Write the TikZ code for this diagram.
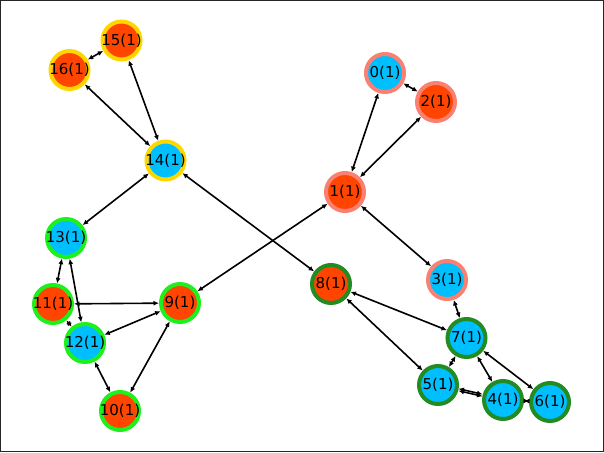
\documentclass[tikz,border=0pt]{standalone}
\usepackage{fontspec}
\setmainfont{DejaVu Sans}
\usetikzlibrary{arrows.meta}
\definecolor{cred}{HTML}{FF4500}
\definecolor{cblue}{HTML}{00BFFF}
\definecolor{cgold}{HTML}{FFD700}
\definecolor{csalmon}{HTML}{FA8072}
\definecolor{clime}{HTML}{1EF01E}
\definecolor{cforest}{HTML}{228B22}
\tikzset{
  vtx/.style={circle, minimum size=38pt, inner sep=0pt, line width=4pt, draw=#1,
    label={[font=\fontsize{15}{15}\selectfont, inner sep=0pt]center:\vtxtext}},
  red/.style={fill=cred},
  blue/.style={fill=cblue},
  edge/.style={line width=1.6pt, black, {Latex[length=5.5pt,width=5pt]}-{Latex[length=5.5pt,width=5pt]}},
}
\newcommand\vtxtext{}
\newcommand\mknode[5]{\renewcommand\vtxtext{#5}\node[vtx=#3, #4] (#1) at #2 {};}
\begin{document}
\begin{tikzpicture}[x=1pt,y=-1pt]
\useasboundingbox (0,0) rectangle (604,452);
\draw[line width=1pt, black!85] (0.5,0.5) rectangle (603.5,451.5);
% nodes
\mknode{n15}{(121.5,40.5)}{cgold}{red}{15(1)}
\mknode{n16}{(69.5,70)}{cgold}{red}{16(1)}
\mknode{n14}{(165.5,160.5)}{cgold}{blue}{14(1)}
\mknode{n0}{(385,73)}{csalmon}{blue}{0(1)}
\mknode{n2}{(436,102)}{csalmon}{red}{2(1)}
\mknode{n1}{(345,192)}{csalmon}{red}{1(1)}
\mknode{n3}{(447,280)}{csalmon}{blue}{3(1)}
\mknode{n13}{(66,238)}{clime}{blue}{13(1)}
\mknode{n11}{(53,304)}{clime}{red}{11(1)}
\mknode{n9}{(180,303)}{clime}{red}{9(1)}
\mknode{n12}{(85,343)}{clime}{blue}{12(1)}
\mknode{n10}{(120,411)}{clime}{red}{10(1)}
\mknode{n8}{(331,284)}{cforest}{red}{8(1)}
\mknode{n7}{(466.5,338)}{cforest}{blue}{7(1)}
\mknode{n5}{(438,385)}{cforest}{blue}{5(1)}
\mknode{n4}{(503,400)}{cforest}{blue}{4(1)}
\mknode{n6}{(550,402)}{cforest}{blue}{6(1)}
% edges
\draw[edge] (n15) -- (n16);
\draw[edge] (n15) -- (n14);
\draw[edge] (n16) -- (n14);
\draw[edge] (n14) -- (n13);
\draw[edge] (n14) -- (n8);
\draw[edge] (n0) -- (n2);
\draw[edge] (n0) -- (n1);
\draw[edge] (n2) -- (n1);
\draw[edge] (n1) -- (n9);
\draw[edge] (n1) -- (n3);
\draw[edge] (n13) -- (n11);
\draw[edge] (n13) -- (n12);
\draw[edge] (n11) -- (n9);
\draw[edge] (n11) -- (n12);
\draw[edge] (n9) -- (n12);
\draw[edge] (n9) -- (n10);
\draw[edge] (n12) -- (n10);
\draw[edge] (n8) -- (n7);
\draw[edge] (n8) -- (n5);
\draw[edge] (n3) -- (n7);
\draw[edge] (n7) -- (n5);
\draw[edge] (n7) -- (n4);
\draw[edge] (n7) -- (n6);
\draw[edge, transform canvas={yshift=-1pt}] (n5) -- (n4);
\draw[edge, transform canvas={yshift=1pt}] (n5) -- (n4);
\draw[edge] (n4) -- (n6);
\end{tikzpicture}
\end{document}
